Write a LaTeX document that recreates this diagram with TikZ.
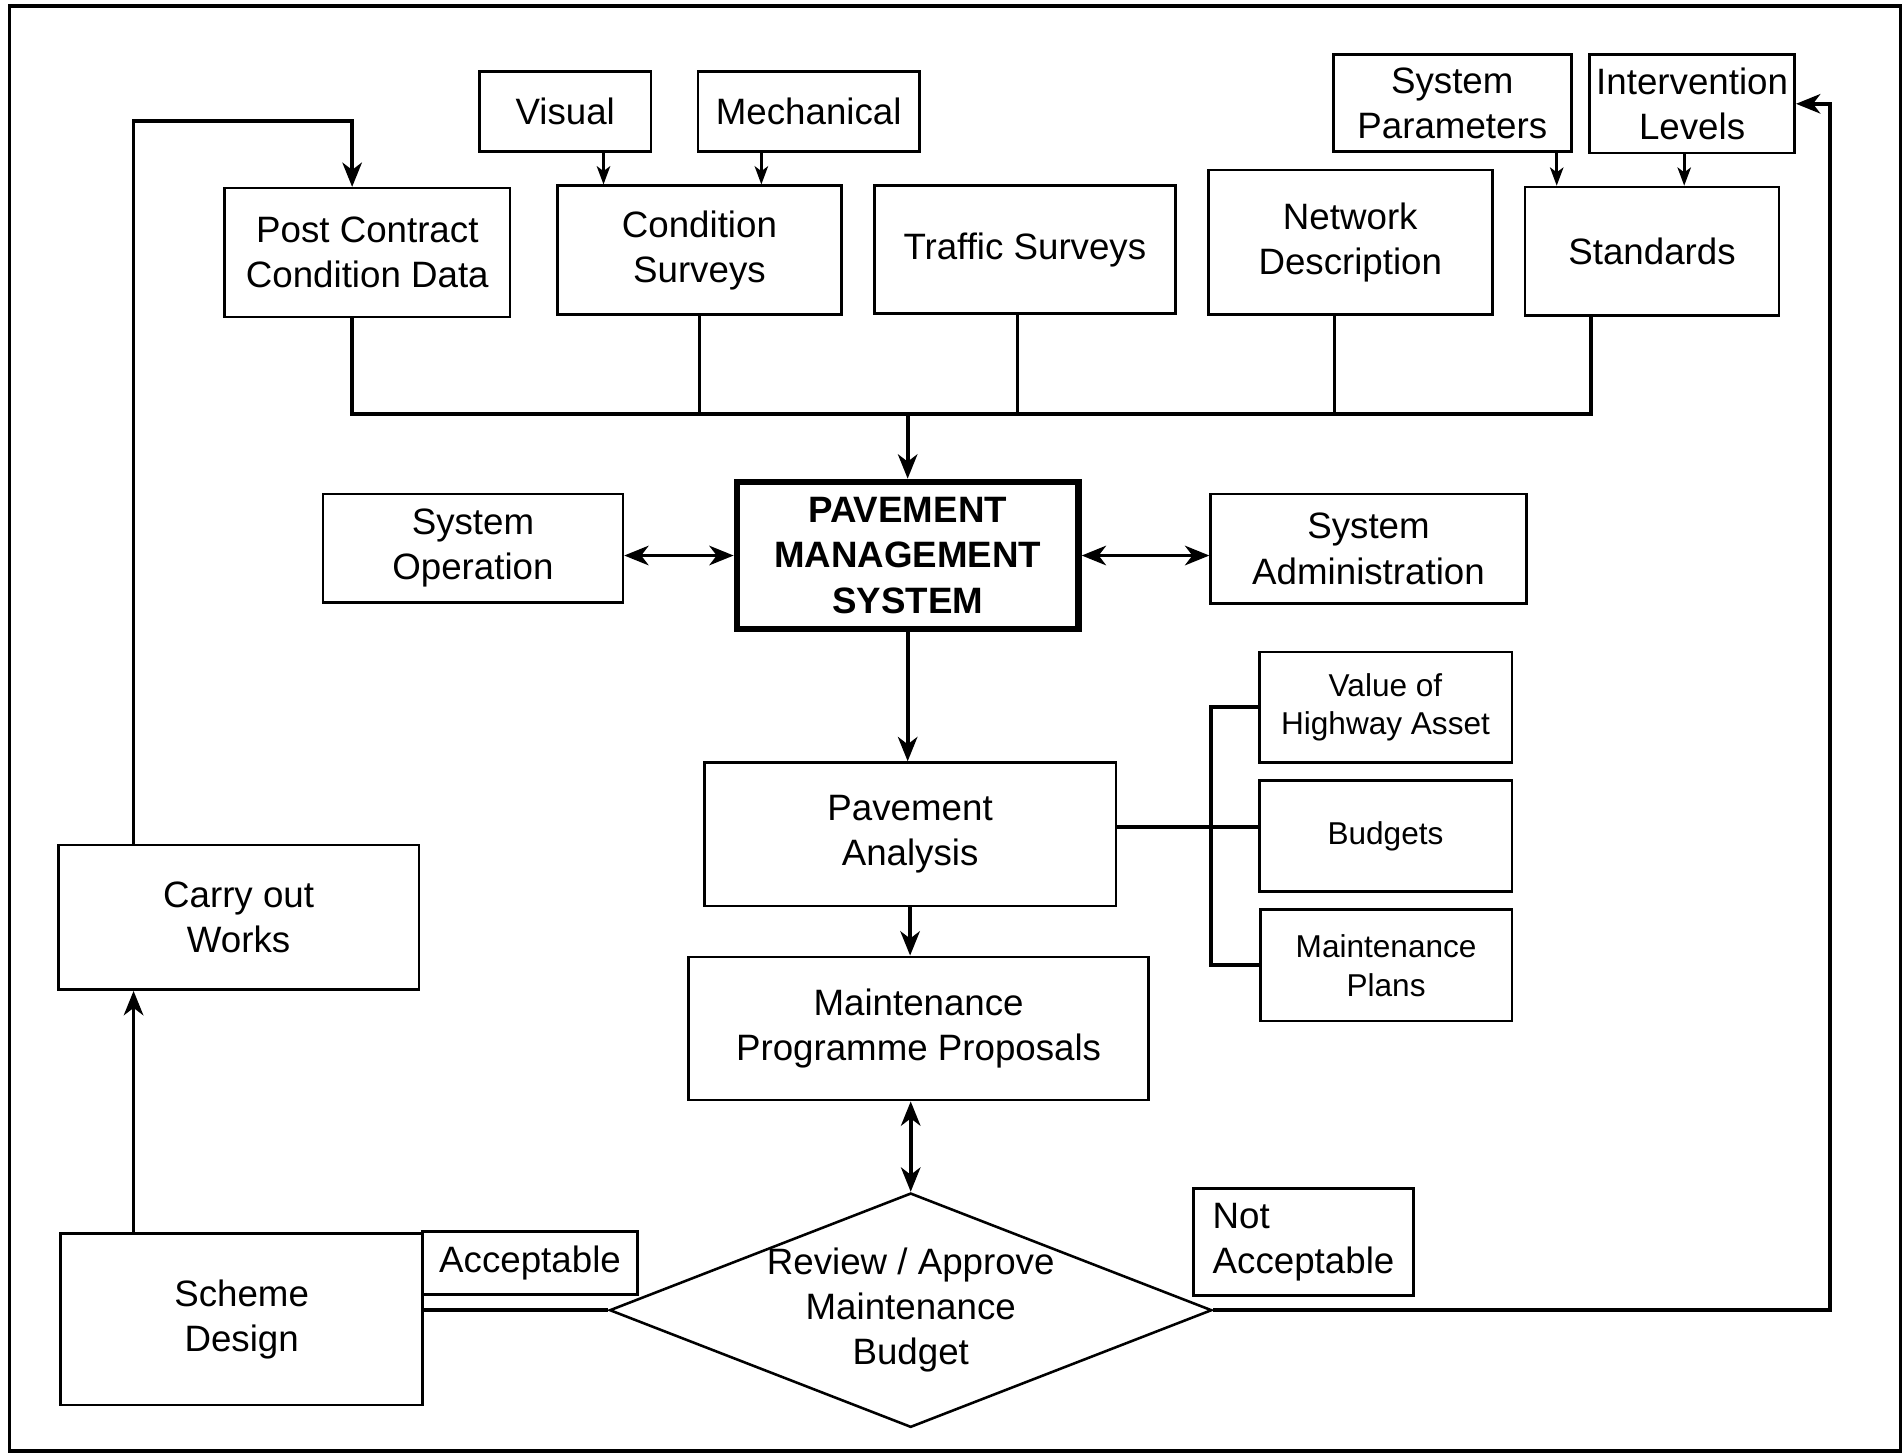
\documentclass[tikz,border=0pt]{standalone}
\usepackage{fontspec}
\setmainfont{Liberation Sans}
\usetikzlibrary{shapes.geometric,arrows.meta}
\begin{document}
\begin{tikzpicture}[x=0.1mm,y=-0.1mm,
  box/.style={draw,line width=0.6pt,inner sep=0pt,align=center,font=\fontsize{8.6}{10.6}\selectfont},
  sbox/.style={box,font=\fontsize{7.4}{9.1}\selectfont},
  rc/.style args={#1/#2/#3/#4}{minimum width={(#3-#1)*0.1mm},minimum height={(#4-#2)*0.1mm},at={({(#1+#3)/2},{(#2+#4)/2})}},
  conn/.style={line width=0.9pt},
  tip/.tip={Stealth[length=2mm,width=1.6mm,inset=0.6mm]},
  stip/.tip={Stealth[length=1.5mm,width=1.1mm,inset=0.4mm]},
  arr/.style={conn,-tip},
  darr/.style={conn,tip-tip},
  sarr/.style={line width=0.7pt,-stip}]
\useasboundingbox (0,0) rectangle (1568,1198);
\draw[line width=0.8pt] (8,5) rectangle (1565,1195);

% top inputs
\node[box,rc=395/59/536/125] (VI) {Visual};
\node[box,rc=575/59/757/125] (ME) {Mechanical};
\node[box,rc=1098/45/1294/125] (SP) {System\\Parameters};
\node[box,rc=1309/45/1478/126] (IL) {Intervention\\Levels};

\node[box,rc=185/155/420/261] (PC) {Post Contract\\Condition Data};
\node[box,rc=459/153/693/259] (CS) {Condition\\Surveys};
\node[box,rc=720/153/968/258] (TS) {Traffic Surveys};
\node[box,rc=995/140/1229/259] (ND) {Network\\Description};
\node[box,rc=1256/154/1465/260] (ST) {Standards};

% centre
\node[box,rc=266/407/513/496] (SO) {System\\Operation};
\node[box,line width=1.6pt,font=\bfseries\fontsize{8.6}{10.6}\selectfont,rc=607/397/888/518] (PMS) {PAVEMENT\\MANAGEMENT\\SYSTEM};
\node[box,rc=997/407/1257/497] (SA) {System\\Administration};
\node[box,rc=580/628/919/746] (PA) {Pavement\\Analysis};
\node[box,rc=567/788/946/906] (MPP) {Maintenance\\Programme Proposals};

% right group
\node[sbox,rc=1037/537/1245/628] (VH) {Value of\\Highway Asset};
\node[sbox,rc=1037/643/1245/734] (BU) {Budgets};
\node[sbox,rc=1038/749/1245/841] (MP) {Maintenance\\Plans};

% bottom
\node[box,rc=48/696/345/815] (CW) {Carry out\\Works};
\node[box,rc=50/1016/348/1157] (SD) {Scheme\\Design};
\node[box,rc=348/1014/525/1066] (AC) {Acceptable};
\node[box,align=left,rc=983/979/1164/1067] (NA) {Not\\Acceptable};
\node[draw,diamond,line width=0.6pt,minimum width=49.6mm,minimum height=19.3mm,inner sep=0pt] (RV) at (750,1079) {};
\node[align=center,inner sep=0pt,font=\fontsize{8.6}{10.6}\selectfont] (RVt) at (RV.center) {Review / Approve\\Maintenance\\Budget};

% helper coordinates
\coordinate (a1) at (497,0);
\coordinate (a2) at (627,0);
\coordinate (a3) at (1282,0);
\coordinate (a4) at (1387,0);
\coordinate (b1) at (290,341);
\coordinate (b2) at (576,341);
\coordinate (b3) at (838,341);
\coordinate (b4) at (1099,341);
\coordinate (b5) at (1310,341);
\coordinate (rg) at (997,681);
\coordinate (lx) at (110,100);
\coordinate (rx) at (1507,1080);

% input arrows
\draw[sarr] (VI.south -| a1) -- (CS.north -| a1);
\draw[sarr] (ME.south -| a2) -- (CS.north -| a2);
\draw[sarr] (SP.south -| a3) -- (ST.north -| a3);
\draw[sarr] (IL.south -| a4) -- (ST.north -| a4);

% bus
\draw[conn] (PC.south -| b1) -- (b1);
\draw[conn] (CS.south -| b2) -- (b2);
\draw[conn] (TS.south -| b3) -- (b3);
\draw[conn] (ND.south -| b4) -- (b4);
\draw[conn] (ST.south -| b5) -- (b5);
\draw[conn,line cap=rect] (b1) -- (b5);
\draw[arr] (PMS.north |- b1) -- (PMS.north);

% side links
\draw[darr] (PMS.west -| SO.east) -- (PMS.west);
\draw[darr] (PMS.east) -- (PMS.east -| SA.west);

% main flow
\draw[arr] (PMS.south) -- (PMS.south |- PA.north);
\draw[arr] (PA.south) -- (PA.south |- MPP.north);
\draw[darr] (MPP.south -| RV.north) -- (RV.north);

% right group bracket
\draw[conn] (PA.east |- rg) -- (BU.west |- rg);
\draw[conn] (VH.west) -- (VH.west -| rg) -- (MP.west -| rg) -- (MP.west);

% decision outcomes
\draw[conn] (RV.west) -- (RV.west -| SD.east);
\draw[arr] (RV.east) -- (RV.east -| rx) -- (IL.east -| rx) -- (IL.east);

% loop back
\draw[arr] (SD.north -| lx) -- (CW.south -| lx);
\draw[arr] (CW.north -| lx) -- (lx) -- (lx -| b1) -- (PC.north -| b1);
\end{tikzpicture}
\end{document}
